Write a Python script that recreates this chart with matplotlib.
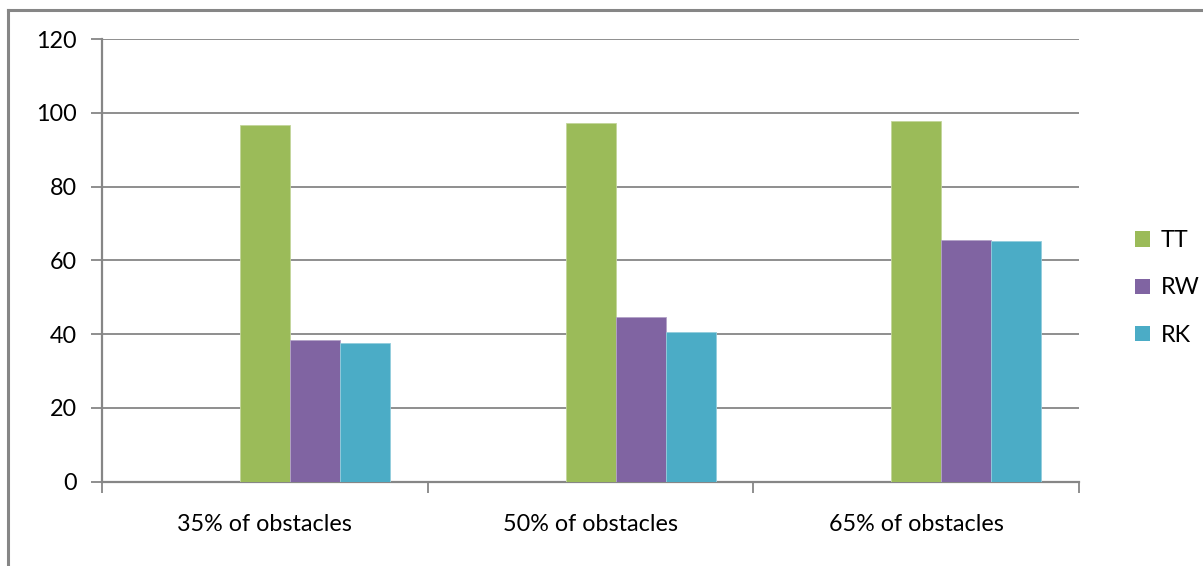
import numpy as np
import matplotlib.pyplot as plt
from matplotlib.lines import Line2D
from matplotlib.patches import Patch

categories = ['35% of obstacles', '50% of obstacles', '65% of obstacles']
series_names = ['TT', 'RW', 'RK']
tt = [96.7, 97.1, 97.7]
rw = [38.4, 44.6, 65.4]
rk = [37.5, 40.5, 65.2]
y_ticks = [0, 20, 40, 60, 80, 100, 120]

colors = ['#9BBB59', '#8064A2', '#4BACC6']
edges = ['#c3d69b', '#b3a2c7', '#93cddd']
grey = '#868686'
fs = 16.8

plt.rcParams['font.family'] = ['Lato', 'DejaVu Sans']

fig = plt.figure(figsize=(12.03, 5.66), dpi=100)
ax = fig.add_axes([102 / 1203, 84.3 / 566, 977 / 1203, 442.7 / 566])

# bars sit in the right part of each category slot (Excel layout)
bar_w = 0.1535
start = 0.4237
x = np.arange(len(categories))
for i, vals in enumerate([tt, rw, rk]):
    ax.bar(x + start + i * bar_w, vals, width=bar_w, align='edge',
           color=colors[i], edgecolor=edges[i], linewidth=0.6, zorder=3,
           label=series_names[i])

ax.set_xlim(0, 3)
ax.set_ylim(0, 120)
ax.set_yticks(y_ticks)
ax.set_yticklabels([str(v) for v in y_ticks], fontsize=fs)
ax.yaxis.grid(True, color=grey, linewidth=1.3, zorder=0)
ax.set_xticks([0, 1, 2, 3])
ax.set_xticklabels([])
ax.set_xticks(x + 0.5, minor=True)
ax.set_xticklabels(categories, minor=True, fontsize=fs)
ax.tick_params(axis='x', which='minor', length=0, pad=23)
ax.tick_params(axis='x', which='major', length=8, width=1.3, color=grey, direction='out')
ax.tick_params(axis='y', length=8, width=1.3, color=grey, pad=10)

for side in ['top', 'right']:
    ax.spines[side].set_visible(False)
for side in ['left', 'bottom']:
    ax.spines[side].set_color(grey)
    ax.spines[side].set_linewidth(1.6)

handles = [Patch(facecolor=c) for c in colors]
leg = fig.legend(handles, series_names, loc='center left',
                 bbox_to_anchor=(1114 / 1203, 1 - 288 / 566), frameon=False,
                 fontsize=fs, handlelength=0.65, handleheight=0.65,
                 handletextpad=0.45, labelspacing=1.12)

# outer chart frame (only top and left edges are in the crop)
fig.add_artist(Line2D([8 / 1203, 8 / 1203], [0, 1 - 10 / 566], color=grey, linewidth=2.2,
                      transform=fig.transFigure))
fig.add_artist(Line2D([8 / 1203, 1], [1 - 10 / 566, 1 - 10 / 566], color=grey, linewidth=2.2,
                      transform=fig.transFigure))

fig.savefig('out.png', dpi=100)
